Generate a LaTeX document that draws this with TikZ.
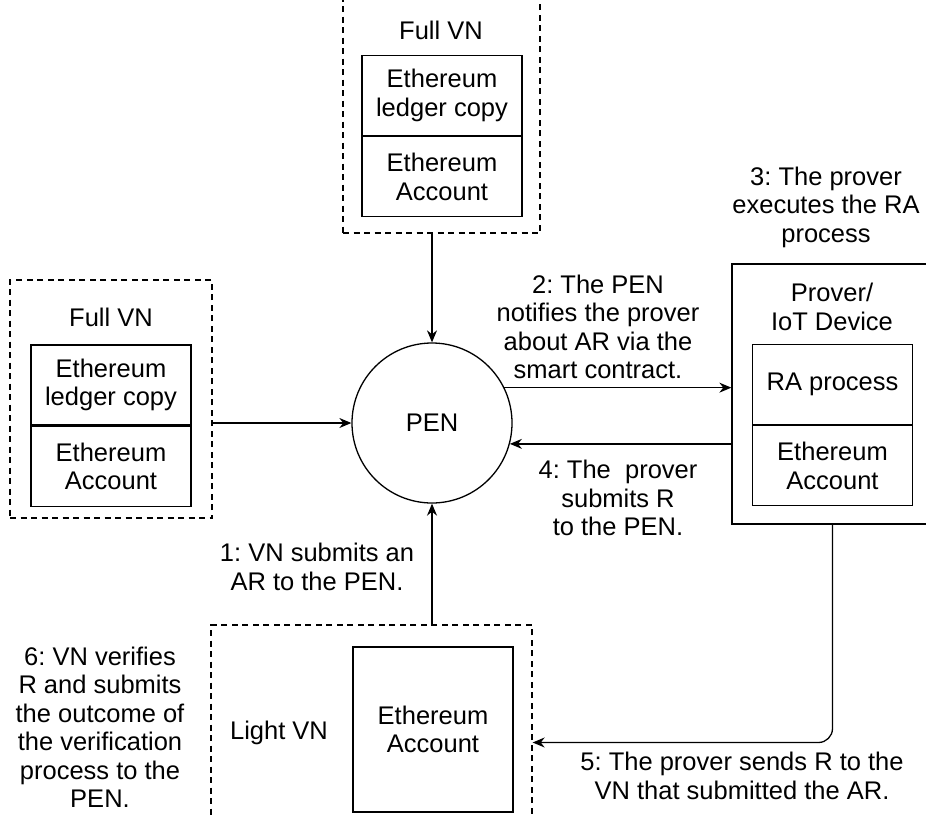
\documentclass[tikz,border=0pt]{standalone}
\usepackage{fontspec}
\setmainfont{Liberation Sans}
\usetikzlibrary{positioning,arrows.meta}
\frenchspacing

\tikzset{every node/.style={font=\fontsize{25.5}{28.5}\selectfont,inner sep=0pt,align=center},
  dashbox/.style={draw,dash pattern=on 6pt off 4.5pt,line width=1.3pt},
  cell/.style={draw,line width=1.3pt,minimum width=160pt,minimum height=80pt},
  flow/.style={draw,line width=1.3pt,-{Stealth[length=12pt,width=10pt]}}}

\begin{document}
\begin{tikzpicture}[x=1pt,y=-1pt]
\useasboundingbox (0,0) rectangle (926,817);
% containers
\node[dashbox,minimum width=197pt,minimum height=263pt] (topvn) at (441.5,101.5) {};
\node[dashbox,minimum width=202pt,minimum height=238pt] (leftvn) at (111,399) {};
\node[dashbox,minimum width=321pt,minimum height=235pt] (lightvn) at (371.5,742.5) {};
\node[draw,line width=1.3pt,minimum width=220pt,minimum height=260pt] (prover) at (842,394) {};
% cells
\node[cell] (topledger) at (442,95.5) {Ethereum\\ledger copy};
\node[cell,below=0pt of topledger] (topacc) {Ethereum\\Account};
\node[cell] (leftledger) at (111,385) {Ethereum\\ledger copy};
\node[cell,below=0pt of leftledger] (leftacc) {Ethereum\\Account};
\node[cell] (ra) at (832.5,384.5) {RA process};
\node[cell,below=0pt of ra] (pacc) {Ethereum\\Account};
\node[cell,minimum height=165pt] (lightacc) at (433,729.5) {Ethereum\\Account};
% titles
\node (toptitle) at (441,30) {Full VN};
\node (lefttitle) at (111,317) {Full VN};
\node (provertitle) at (832,307) {Prover/\\IoT Device};
\node (lighttitle) at (279,733) {Light VN};
\node[draw,circle,line width=1.3pt,minimum size=160pt] (pen) at (432,423) {PEN};
% steps
\node (s1) at (317,567) {1: VN submits an\\AR to the PEN.};
\node (s2) at (598,327) {2: The PEN\\notifies the prover\\about AR via the\\smart contract.};
\node (s3) at (826,207) {3: The prover\\executes the RA\\process};
\node (s4) at (618,498) {4: The\ \ prover\\submits R\\to the PEN.};
\node (s5) at (742,776) {5: The prover sends R to the\\VN that submitted the AR.};
\node (s6) at (100,727) {6: VN verifies\\R and submits\\the outcome of\\the verification\\process to the\\PEN.};
% arrows
\path[flow] (pen.north |- topvn.south) -- (pen.north);
\path[flow] (pen.west -| leftvn.east) -- (pen.west);
\path[flow] (pen.26) -- (pen.26 -| prover.west);
\path[flow] (pen.-15 -| prover.west) -- (pen.-15);
\path[flow] (pen.south |- lightvn.north) -- (pen.south);
\path[flow,rounded corners=14pt] (pacc.south |- prover.south) |- (lightvn.east);
\end{tikzpicture}
\end{document}
